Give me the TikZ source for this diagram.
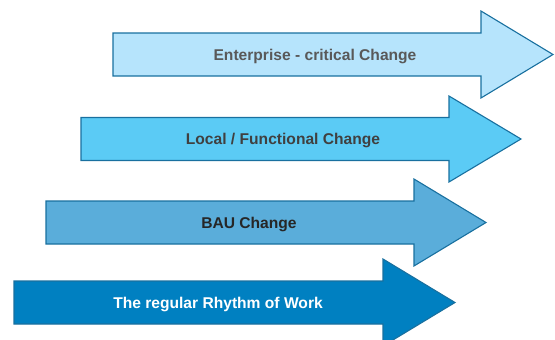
\documentclass[tikz,border=0pt]{standalone}
\usepackage{fontspec}
\setmainfont{Liberation Sans}
\begin{document}
\definecolor{edgeblue}{HTML}{19709F}
\definecolor{fillA}{HTML}{B6E4FC}
\definecolor{fillB}{HTML}{5BCBF5}
\definecolor{fillC}{HTML}{5AADDA}
\definecolor{fillD}{HTML}{0080C1}
\definecolor{textA}{HTML}{595959}
\definecolor{textB}{HTML}{404040}
\definecolor{textC}{HTML}{262626}
\begin{tikzpicture}[x=1pt,y=-1pt,
  band/.style={draw=edgeblue,line width=1.1pt,line join=miter},
  label/.style={font=\bfseries\fontsize{15.6}{18}\selectfont,inner sep=0pt,anchor=base}]
\useasboundingbox (0,0) rectangle (555,340);
\clip (0,0) rectangle (555,340);
% arrow outline: body half-height 21.5, head half-height 43, head length 72
\draw[band,fill=fillA] (113,33) -- (481,33) -- (481,11) -- (553,54.5) -- (481,98) -- (481,76) -- (113,76) -- cycle;
\draw[band,fill=fillB] (81,117.5) -- (449,117.5) -- (449,96) -- (521,139) -- (449,182) -- (449,160.5) -- (81,160.5) -- cycle;
\draw[band,fill=fillC] (46,201) -- (414,201) -- (414,179) -- (486,222.5) -- (414,266) -- (414,244) -- (46,244) -- cycle;
\draw[band,fill=fillD] (14,281) -- (383,281) -- (383,259) -- (455,302.5) -- (383,346) -- (383,324) -- (14,324) -- cycle;
% labels: baseline sits half a cap height below the arrow's axis
\node[label,text=textA] (enterprise) at (315,60.3) {Enterprise - critical Change};
\node[label,text=textB] (local) at (283,144.8) {Local / Functional Change};
\node[label,text=textC] (bau) at (249,228.3) {BAU Change};
\node[label,text=white] (rhythm) at (218,308.3) {The regular Rhythm of Work};
\end{tikzpicture}
\end{document}
